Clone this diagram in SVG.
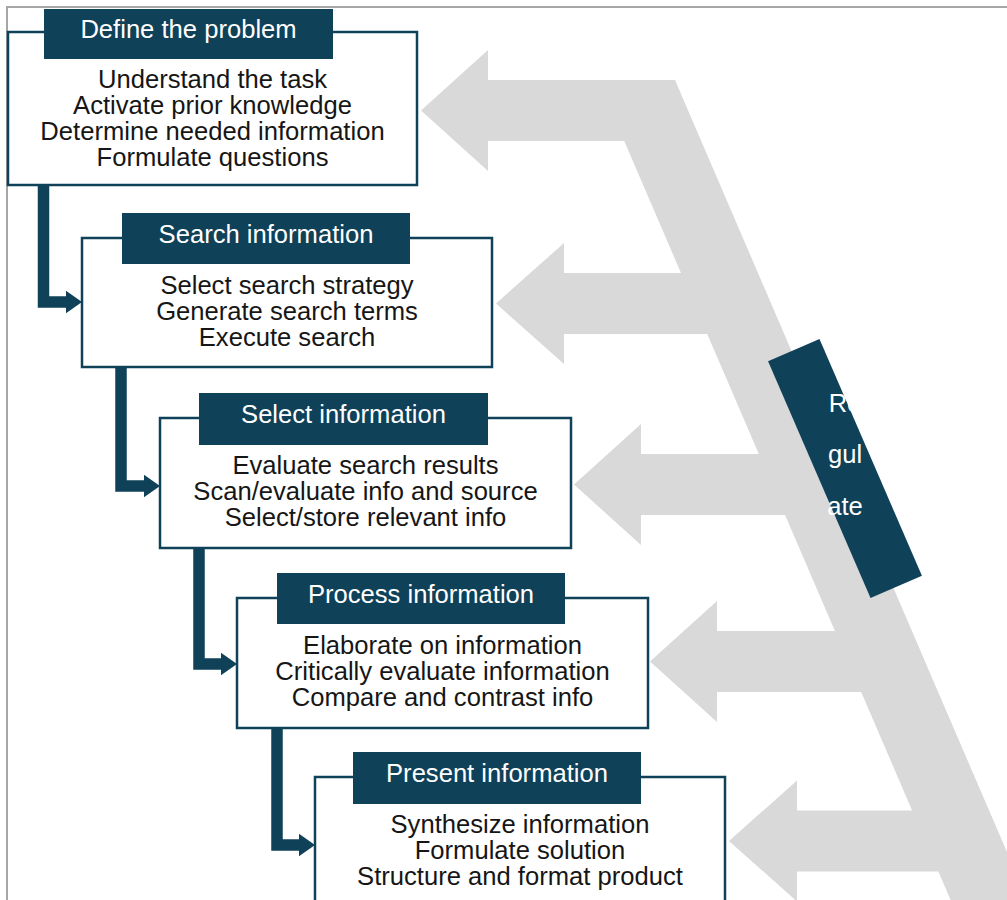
<svg xmlns="http://www.w3.org/2000/svg" width="1007" height="900" viewBox="0 0 1007 900">
<style>
  .frame{fill:none;stroke:#a6a6a6;stroke-width:2}
  .band{fill:#d9d9d9;stroke:none}
  .box{fill:#ffffff;stroke:#0f4159;stroke-width:2.5}
  .hdr{fill:#0f4159;stroke:none}
  .ht{font-family:"Liberation Sans",Arial,sans-serif;font-size:25.6px;fill:#ffffff;text-anchor:middle}
  .bt{font-family:"Liberation Sans",Arial,sans-serif;font-size:25.6px;fill:#161616;text-anchor:middle}
  .conn{fill:none;stroke:#0f4159;stroke-width:11.5;stroke-linejoin:miter}
  .reg{fill:#0f4159}
</style>
<defs>
  <marker id="ah" markerUnits="userSpaceOnUse" markerWidth="17" markerHeight="24" refX="0.5" refY="12" orient="auto">
    <path d="M0,0.5 L16.5,12 L0,23.5 Z" fill="#0f4159"/>
  </marker>
</defs>
<rect width="1007" height="900" fill="#ffffff"/>
<path class="frame" d="M7,900 V7 H1007"/>

<g id="feedback">
  <polygon class="band" points="598,80 675,80 1053.4,960 976.4,960"/>
  <polygon class="band" points="421,110.5 488,50 488,80 650,80 650,141 488,141 488,171 "/>
  <polygon class="band" points="496,303.5 564,243 564,273 720,273 720,334 564,334 564,364"/>
  <polygon class="band" points="574,484.5 641,424 641,454 797,454 797,515 641,515 641,545"/>
  <polygon class="band" points="650,661.5 717,601 717,631 873,631 873,692 717,692 717,722"/>
  <polygon class="band" points="729,841 797,780.5 797,810.5 950,810.5 950,871.5 797,871.5 797,901.5"/>
</g>

<g id="regulate">
  <rect class="reg" x="817" y="339.5" width="56" height="258" transform="rotate(-23.4 845 468.5)"/>
  <text class="ht" x="845" y="412">Re</text>
  <text class="ht" x="845" y="463">gul</text>
  <text class="ht" x="845" y="515">ate</text>
</g>

<g id="connectors">
  <path class="conn" d="M43.5,185 V302 H66" marker-end="url(#ah)"/>
  <path class="conn" d="M121,367 V486 H144" marker-end="url(#ah)"/>
  <path class="conn" d="M199,548 V664 H221" marker-end="url(#ah)"/>
  <path class="conn" d="M277,728 V845 H299" marker-end="url(#ah)"/>
</g>

<g id="define">
  <rect class="box" x="8" y="32" width="409" height="153"/>
  <rect class="hdr" x="44" y="9" width="289" height="50"/>
  <text class="ht" x="188.5" y="38">Define the problem</text>
  <text class="bt" x="212.5" y="87.5">Understand the task</text>
  <text class="bt" x="212.5" y="113.5">Activate prior knowledge</text>
  <text class="bt" x="212.5" y="139.5">Determine needed information</text>
  <text class="bt" x="212.5" y="165.5">Formulate questions</text>
</g>

<g id="search">
  <rect class="box" x="82" y="238" width="410" height="129"/>
  <rect class="hdr" x="122" y="213" width="288" height="51"/>
  <text class="ht" x="266" y="242.5">Search information</text>
  <text class="bt" x="287" y="293.5">Select search strategy</text>
  <text class="bt" x="287" y="319.5">Generate search terms</text>
  <text class="bt" x="287" y="345.5">Execute search</text>
</g>

<g id="select">
  <rect class="box" x="160" y="418" width="411" height="130"/>
  <rect class="hdr" x="199" y="393" width="289" height="52"/>
  <text class="ht" x="343.5" y="422.5">Select information</text>
  <text class="bt" x="365.5" y="473.5">Evaluate search results</text>
  <text class="bt" x="365.5" y="499.5">Scan/evaluate info and source</text>
  <text class="bt" x="365.5" y="525.5">Select/store relevant info</text>
</g>

<g id="process">
  <rect class="box" x="237" y="598" width="411" height="130"/>
  <rect class="hdr" x="277" y="573" width="288" height="51"/>
  <text class="ht" x="421" y="602.5">Process information</text>
  <text class="bt" x="442.5" y="653.5">Elaborate on information</text>
  <text class="bt" x="442.5" y="679.5">Critically evaluate information</text>
  <text class="bt" x="442.5" y="705.5">Compare and contrast info</text>
</g>

<g id="present">
  <rect class="box" x="315" y="777" width="410" height="130"/>
  <rect class="hdr" x="353" y="752" width="288" height="52"/>
  <text class="ht" x="497" y="781.5">Present information</text>
  <text class="bt" x="520" y="832.5">Synthesize information</text>
  <text class="bt" x="520" y="858.5">Formulate solution</text>
  <text class="bt" x="520" y="884.5">Structure and format product</text>
</g>
</svg>
